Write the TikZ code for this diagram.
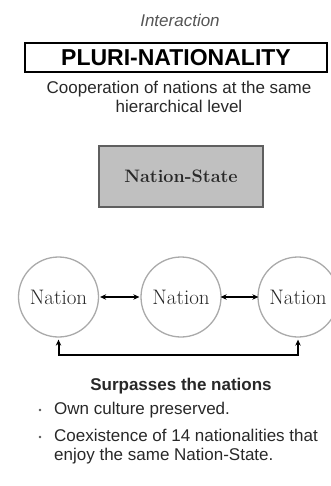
\documentclass[tikz,border=0pt]{standalone}
\usepackage{fontspec}
\newfontfamily\arialfont{Liberation Sans}
\usetikzlibrary{arrows.meta,positioning}
\definecolor{TextGrey}{RGB}{40,40,40}
\definecolor{SoftGrey}{RGB}{85,85,85}
\definecolor{BoxGrey}{RGB}{192,192,192}
\definecolor{EdgeGrey}{RGB}{95,95,95}
\definecolor{RingGrey}{RGB}{170,170,170}
\begin{document}
\begin{tikzpicture}[x=1pt,y=-1pt,>=Stealth,
  sanstext/.style={font=\arialfont\fontsize{17}{19}\selectfont,text=TextGrey,align=center,inner sep=0pt},
  nation/.style={draw=RingGrey,line width=1.3pt,circle,minimum size=80pt,inner sep=0pt,text=TextGrey,font=\fontsize{21}{23}\selectfont},
  link/.style={{Stealth[length=6pt,width=5.5pt]}-{Stealth[length=6pt,width=5.5pt]},line width=2pt},
  dot/.style={circle,fill=SoftGrey,inner sep=0pt,minimum size=2.6pt}]
\useasboundingbox (0,0) rectangle (330,486);
\node[sanstext,text=SoftGrey,font=\arialfont\itshape\fontsize{17}{19}\selectfont] (inter) at (180,20) {Interaction};
\node[draw,line width=1.5pt,minimum width=302pt,minimum height=29pt,inner sep=0pt,font=\arialfont\bfseries\fontsize{23}{25}\selectfont] (title) at (176,57.5) {PLURI-NATIONALITY};
\node[sanstext] (coop) at (179,97) {Cooperation of nations at the same\\hierarchical level};
\node[draw=EdgeGrey,line width=1.3pt,fill=BoxGrey,minimum width=164pt,minimum height=61pt,text=TextGrey,font=\bfseries\fontsize{18}{20}\selectfont] (state) at (181,176.5) {Nation-State};
\node[nation] (n1) at (58.5,297) {Nation};
\node[nation] (n2) at (181,297) {Nation};
\node[nation] (n3) at (298,297) {Nation};
\draw[link,shorten <=1pt,shorten >=1pt] (n1) -- (n2);
\draw[link,shorten <=-1pt,shorten >=-1pt] (n2) -- (n3);
\draw[link,shorten <=2pt,shorten >=2pt] (n1.south) -- ++(0,17) -| (n3.south);
\node[sanstext,font=\arialfont\bfseries\fontsize{17}{19}\selectfont] (surp) at (181,386) {Surpasses the nations};
\node[dot] (d1) at (40,410) {};
\node[sanstext,anchor=west] (own) at (54,410) {Own culture preserved.};
\node[dot] (d2) at (40,437) {};
\node[sanstext,align=left,anchor=north west] (coex) at (54,429) {Coexistence of 14 nationalities that\\enjoy the same Nation-State.};
\end{tikzpicture}
\end{document}
